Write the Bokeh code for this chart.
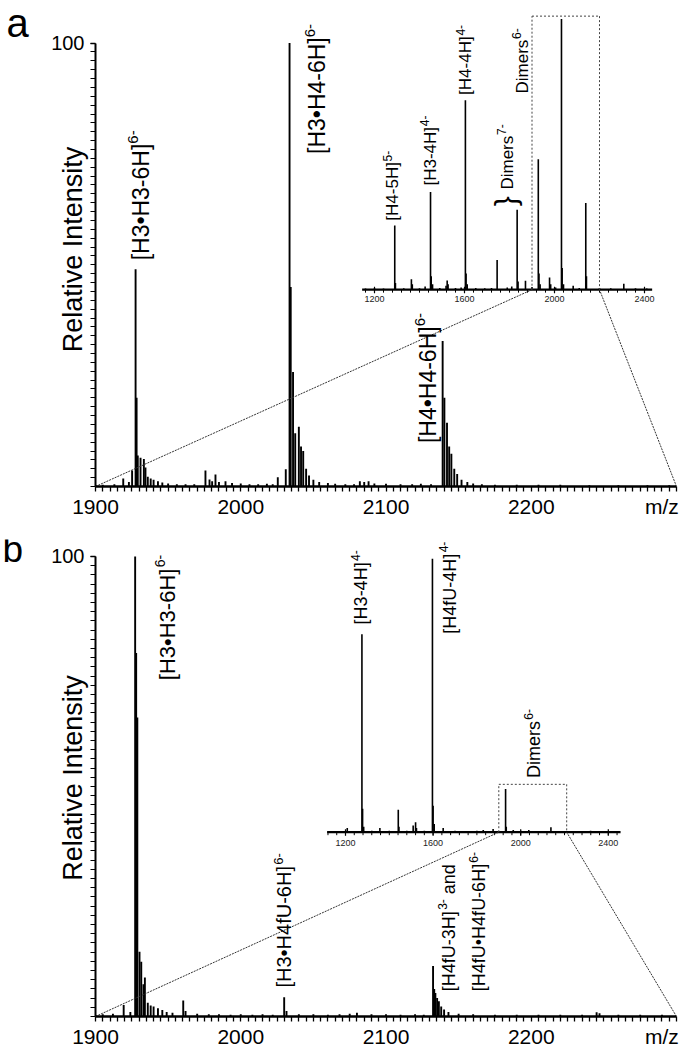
import numpy as np
from math import pi
from bokeh.plotting import figure
from bokeh.models import Range1d, FixedTicker
from bokeh.layouts import column, row
from bokeh.embed import file_html
from bokeh.resources import INLINE
from bokeh.core.properties import value

FONT = "Liberation Sans"

# ---------------- data ----------------
# panel a, main spectrum (m/z, relative intensity %)
a_mz = [1905, 1913, 1919.1, 1923, 1925.2, 1927.6, 1928.3, 1929.1, 1931.0, 1933.3, 1934.4, 1936, 1938, 1940, 1943, 1946, 1950, 1956, 1962, 1968,
        1975.7, 1978.5, 1980.3, 1982.6, 1985, 1989.5, 1994, 2000, 2006, 2012, 2018, 2022,
        2025.5, 2031.0, 2033.6, 2034.4, 2036.0, 2037.5, 2040.0, 2041.5, 2043.0, 2045, 2047, 2050, 2054, 2060, 2065, 2072,
        2078, 2082, 2085, 2088, 2092, 2100, 2110, 2118, 2124, 2131,
        2139.0, 2140.2, 2142.0, 2143.5, 2145.0, 2147, 2149, 2152, 2156, 2160, 2166, 2175, 2190, 2205, 2220, 2240, 2260, 2280, 2295]
a_int = [0.4, 0.5, 1.8, 1.0, 3.6, 49.0, 20.0, 7.0, 6.5, 6.2, 4.3, 2.2, 1.8, 1.5, 1.2, 0.9, 0.7, 0.5, 0.5, 0.5,
         3.6, 1.6, 1.2, 2.7, 1.0, 1.2, 0.8, 0.7, 0.5, 0.5, 0.6, 0.5,
         2.1, 3.9, 100.0, 45.0, 25.8, 12.0, 13.5, 9.0, 8.0, 4.0, 2.5, 1.5, 1.0, 0.8, 0.6, 0.5,
         0.5, 1.2, 1.0, 1.2, 0.7, 0.6, 0.5, 0.5, 0.6, 0.5,
         32.8, 20.0, 14.4, 9.0, 7.4, 4.0, 2.8, 1.5, 1.0, 0.7, 0.5, 0.4, 0.4, 0.4, 0.4, 0.3, 0.3, 0.3, 0.3]

# panel a, inset (full m/z range)
a_ins_mz = [1160, 1200, 1240, 1290, 1293, 1330, 1364, 1368, 1400, 1425, 1449, 1452, 1458, 1490, 1518,
            1523, 1527, 1560, 1585, 1604, 1607, 1612, 1650, 1690, 1720, 1745, 1790, 1810, 1834, 1838,
            1871, 1900, 1928, 1931, 1936, 1978, 1983, 2005, 2031, 2034, 2040, 2083, 2110, 2139, 2142,
            2200, 2250, 2308, 2360, 2410]
a_ins_int = [0.4, 0.5, 0.4, 23.7, 2.5, 0.5, 3.9, 2.0, 0.5, 1.2, 36.1, 5.0, 2.0, 0.6, 1.5,
             3.4, 2.0, 0.6, 0.8, 70.0, 6.0, 2.0, 0.6, 0.5, 0.6, 11.0, 0.8, 1.2, 29.5, 3.0,
             3.3, 1.0, 48.2, 6.0, 2.0, 4.5, 2.0, 0.8, 100.0, 8.0, 2.0, 1.5, 0.6, 32.0, 5.0,
             0.6, 0.5, 2.2, 0.5, 0.4]

# panel b, main spectrum
b_mz = [1905, 1912, 1919.4, 1924, 1927.3, 1928.0, 1928.8, 1930.3, 1931.5, 1933.0, 1934.0, 1936, 1938, 1940, 1943, 1946, 1949, 1953,
        1960.4, 1962, 1970, 1978, 1985, 1993, 2000, 2008, 2015, 2022,
        2029.9, 2031.5, 2040, 2050, 2060, 2068, 2075, 2080, 2090, 2100, 2110, 2120, 2126,
        2132.4, 2133.2, 2134.0, 2135.2, 2136.4, 2138, 2140, 2143, 2150, 2160, 2175, 2190, 2205, 2220, 2235, 2245, 2247, 2260, 2275, 2290]
b_int = [0.5, 0.6, 2.5, 1.0, 100.0, 79.0, 65.0, 14.1, 11.9, 7.0, 8.5, 3.0, 2.4, 2.2, 1.8, 1.4, 1.0, 0.8,
         3.5, 1.2, 0.6, 0.5, 0.5, 0.4, 0.5, 0.4, 0.5, 0.4,
         4.2, 1.2, 0.5, 0.5, 0.4, 0.5, 0.6, 0.8, 0.5, 0.5, 0.4, 0.5, 0.4,
         11.0, 6.0, 5.1, 4.0, 3.3, 2.2, 1.5, 1.0, 0.6, 0.5, 0.4, 0.4, 0.4, 0.4, 0.4, 0.9, 0.7, 0.4, 0.4, 0.4]

# panel b, inset
b_ins_mz = [1130, 1170, 1208, 1240, 1275, 1278, 1283, 1320, 1357, 1400, 1441, 1444, 1480, 1509, 1520,
            1524, 1560, 1597, 1600, 1605, 1646, 1700, 1760, 1800, 1829, 1874, 1931, 1934, 1966, 2000,
            2037, 2080, 2138, 2180, 2250, 2319, 2380, 2430]
b_ins_int = [0.4, 0.4, 1.5, 0.4, 72.4, 8.6, 2.0, 0.5, 1.5, 0.5, 8.2, 2.0, 0.5, 2.4, 3.6,
             1.5, 0.5, 100.0, 9.7, 3.0, 1.5, 0.5, 0.4, 0.5, 0.8, 1.2, 15.8, 2.0, 0.8, 0.5,
             0.8, 0.4, 1.8, 0.4, 0.4, 0.5, 0.3, 0.3]

main_tick_labels = [1900, 2000, 2100, 2200]
inset_tick_labels = [1200, 1600, 2000, 2400]
x_title = "m/z"
y_title = "Relative Intensity"

# annotations: (text, superscript, m/z, intensity at text start)
a_main_labels = [("[H3•H3-6H]", "6-", 1931.0, 51.0),
                 ("[H3•H4-6H]", "6-", 2052.6, 75.0),
                 ("[H4•H4-6H]", "6-", 2128.6, 9.8)]
a_ins_labels = [("[H4-5H]", "5-", 1281, 25.5),
                ("[H3-4H]", "4-", 1447, 38.5),
                ("[H4-4H]", "4-", 1605, 72.0),
                ("Dimers", "7-", 1790, 37.0),
                ("Dimers", "6-", 1856, 72.5)]
b_main_labels = [("[H3•H3-6H]", "6-", 1949.4, 73.1, 22, None),
                 ("[H3•H4fU-6H]", "6-", 2030.1, 6.3, 20, None),
                 ("[H4fU-3H]", "3-", 2143.1, 5.5, 18, "and"),
                 ("[H4fU•H4fU-6H]", "6-", 2163.9, 5.5, 18, None)]
b_ins_labels = [("[H3-4H]", "4-", 1273, 76.0),
                ("[H4fU-4H]", "4-", 1676, 72.6),
                ("Dimers", "6-", 2060, 19.8)]

# ---------------- helpers ----------------
AW = {'[': 278, ']': 278, 'H': 722, '•': 350, '-': 333, 'f': 278, 'U': 722, 'D': 722,
      'i': 222, 'm': 833, 'e': 556, 'r': 333, 's': 500, 'a': 556, 'n': 556, 'd': 556, ' ': 278}


def tw(s, size):
    return sum(AW.get(c, 556) for c in s) / 1000.0 * size


PAGE_W = 686
LETTER_W = 40
FL, FR = 95, 676  # frame left / right (page px)


def rot_label(p, x, y, main, sup, size, ssize, ppx, ppy, kw, extra=None):
    common = dict(angle=pi / 2, text_align="left", text_baseline="middle",
                  text_font=value(FONT), text_color="black")
    p.text(x=[x], y=[y], text=[main], text_font_size=f"{size}px", **common, **kw)
    ys = y + (tw(main, size) + 1.5) / ppy
    xs = x - 0.32 * size / ppx
    p.text(x=[xs], y=[ys], text=[sup], text_font_size=f"{ssize}px", **common, **kw)
    if extra:
        ye = ys + (tw(sup, ssize) + tw(" ", size)) / ppy
        p.text(x=[x], y=[ye], text=[extra], text_font_size=f"{size}px", **common, **kw)


def letter_fig(cfg):
    H = cfg["height"]
    f = figure(width=LETTER_W, height=H, output_backend="svg", toolbar_location=None,
               x_range=Range1d(0, LETTER_W), y_range=Range1d(0, H), title=None,
               x_axis_type=None, y_axis_type=None, min_border=0)
    f.outline_line_color = None
    f.grid.visible = False
    lx, lmid, ls = cfg["letter_pos"]
    f.text(x=[lx], y=[H - (lmid - cfg["page_top"])], text=[cfg["letter"]], text_font=value(FONT),
           text_font_size=f"{ls}px", text_baseline="middle", text_align="left", text_color="black")
    return f


def build(cfg):
    top, H = cfg["page_top"], cfg["height"]
    ft, fb, y100 = cfg["frame_top"], cfg["frame_bottom"], cfg["y100"]
    ppy = (fb - y100) / 100.0
    ppx = (FR - FL) / 400.0
    p = figure(width=PAGE_W - LETTER_W, height=H, output_backend="svg", toolbar_location=None,
               x_range=Range1d(1900, 2300), y_range=Range1d(0, (fb - ft) / ppy),
               min_border_left=FL - LETTER_W, min_border_right=PAGE_W - FR,
               min_border_top=ft - top, min_border_bottom=top + H - fb)
    p.outline_line_color = None
    p.xgrid.visible = False
    p.ygrid.visible = False

    # axes
    xa, ya = p.xaxis[0], p.yaxis[0]
    xa.ticker = FixedTicker(ticks=main_tick_labels + [2290],
                            minor_ticks=list(np.arange(1900, 2301, 5)))
    xa.major_label_overrides = {2290: x_title}
    xa.axis_line_width = 2.5
    xa.major_tick_out, xa.major_tick_in = 0, 0
    xa.minor_tick_out, xa.minor_tick_in = 5, 0
    xa.minor_tick_line_width = 1.3
    xa.major_label_text_font = FONT
    xa.major_label_text_font_size = "21px"
    xa.major_label_text_color = "black"
    xa.major_label_standoff = 3

    ya.ticker = FixedTicker(ticks=[100], minor_ticks=list(range(0, 101, 2)))
    ya.bounds = (0, 100)
    ya.axis_line_width = 2
    ya.major_tick_out, ya.major_tick_in = 5, 0
    ya.minor_tick_out, ya.minor_tick_in = 5, 0
    ya.major_tick_line_width = 1.5
    ya.minor_tick_line_width = 1.2
    ya.major_label_text_font = FONT
    ya.major_label_text_font_size = "20px"
    ya.major_label_text_color = "black"
    ya.major_label_standoff = 6
    ya.axis_label = y_title
    ya.axis_label_text_font = FONT
    ya.axis_label_text_font_size = "27px"
    ya.axis_label_text_font_style = "normal"
    ya.axis_label_text_color = "black"
    ya.axis_label_standoff = -40

    # main spectrum sticks
    mz, it = cfg["mz"], cfg["int"]
    p.segment(x0=mz, y0=[0] * len(mz), x1=mz, y1=it, line_color="black", line_width=1.9)

    # inset ranges
    ins = cfg["inset"]

    def ix(px):
        return ins["mz0"] + (px - ins["px0"]) / ins["ppu"]

    def iy(py):
        return (ins["base"] - py) / ins["ppp"]

    p.extra_x_ranges = {"ins": Range1d(ix(FL), ix(FR))}
    p.extra_y_ranges = {"ins": Range1d(iy(fb), iy(ft))}
    kw = dict(x_range_name="ins", y_range_name="ins")

    imz, iit = cfg["imz"], cfg["iint"]
    p.segment(x0=imz, y0=[0] * len(imz), x1=imz, y1=iit, line_color="black", line_width=1.6, **kw)
    a0, a1 = ins["axis"]
    p.segment(x0=[a0], y0=[0], x1=[a1], y1=[0], line_color="black", line_width=2.2, **kw)
    tl = 3.0 / ins["ppp"]
    minor = [t for t in np.arange(1120, 2441, 40) if a0 < t < a1]
    p.segment(x0=minor, y0=[0] * len(minor), x1=minor, y1=[-tl] * len(minor),
              line_color="black", line_width=1, **kw)
    p.segment(x0=inset_tick_labels, y0=[tl] * 4, x1=inset_tick_labels, y1=[-tl * 1.2] * 4,
              line_color="black", line_width=1.2, **kw)
    p.text(x=inset_tick_labels, y=[-ins["lab"] / ins["ppp"]] * 4, text=[str(v) for v in inset_tick_labels],
           text_align="center", text_baseline="middle", text_font=value(FONT),
           text_font_size="9px", text_color="#222", **kw)

    # zoom box
    b0, b1, bt = ins["box"]
    p.segment(x0=[b0, b0, b1], y0=[0, bt, bt], x1=[b0, b1, b1], y1=[bt, bt, 0],
              line_color="#444", line_width=1, line_dash="2 2", **kw)

    # zoom lines (inset box corners mapped to main coordinates)
    def to_main_x(m):
        return 1900 + (ins["px0"] + (m - ins["mz0"]) * ins["ppu"] - FL) / ppx
    base_main = (fb - ins["base"]) / ppy
    p.segment(x0=[1900, 2300], y0=[0, 0], x1=[to_main_x(b0), to_main_x(b1)], y1=[base_main, base_main],
              line_color="#333", line_width=1, line_dash="2 1")

    # labels
    for (t, s, x, y, size, extra) in cfg["main_labels"]:
        rot_label(p, x, y, t, s, size, round(size * 0.65), ppx, ppy, {}, extra)
    for (t, s, x, y) in cfg["ins_labels"]:
        rot_label(p, x, y, t, s, cfg["ins_size"], 12, ins["ppu"], ins["ppp"], kw)
    if cfg.get("brace"):
        bx, by = cfg["brace"]
        p.text(x=[bx], y=[by], text=["}"], angle=pi / 2, text_align="center", text_baseline="middle",
               text_font=value(FONT), text_font_size="30px", text_color="black", **kw)
    return p


cfg_a = dict(page_top=0, height=520, frame_top=12, frame_bottom=492, y100=43,
             mz=a_mz, int=a_int, imz=a_ins_mz, iint=a_ins_int,
             inset=dict(mz0=1900, px0=531.5, ppu=0.225, base=292.7, ppp=2.74,
                        axis=(1145, 2434), lab=9.5, box=(1900, 2200, 101.1)),
             main_labels=[(t, s, x, y, 23, None) for (t, s, x, y) in a_main_labels],
             ins_labels=a_ins_labels, ins_size=17, brace=(1782, 32.7),
             letter="a", letter_pos=(6, 11, 40))

cfg_b = dict(page_top=520, height=530, frame_top=539, frame_bottom=1017, y100=556,
             mz=b_mz, int=b_int, imz=b_ins_mz, iint=b_ins_int,
             inset=dict(mz0=1200, px0=345, ppu=0.219, base=832.3, ppp=2.74,
                        axis=(1116, 2456), lab=10.5, box=(1900, 2210, 17.5)),
             main_labels=b_main_labels,
             ins_labels=b_ins_labels, ins_size=18, brace=None,
             letter="b", letter_pos=(2, 531, 37))

layout = column(row(letter_fig(cfg_a), build(cfg_a)),
                row(letter_fig(cfg_b), build(cfg_b)))
open("out.html", "w").write(file_html(layout, INLINE))
